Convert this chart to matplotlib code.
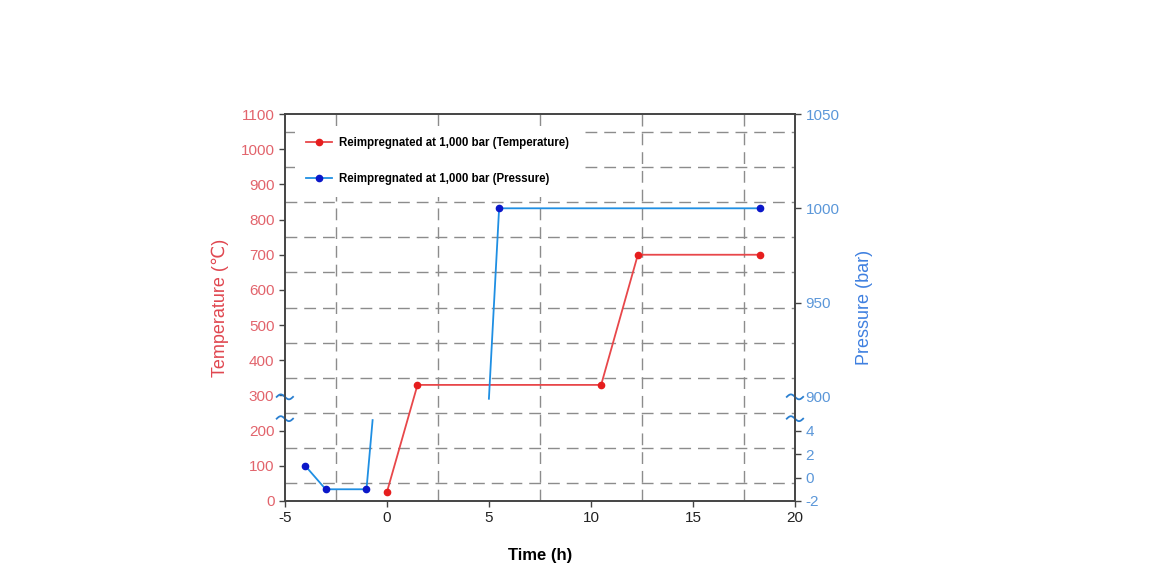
import numpy as np
import matplotlib
matplotlib.use('Agg')
import matplotlib.pyplot as plt
from matplotlib.ticker import MultipleLocator, FixedLocator

plt.rcParams['font.family'] = ['Liberation Sans', 'DejaVu Sans']
plt.rcParams['axes.unicode_minus'] = False

# temperature run
temp_time = [0, 1.5, 10.5, 12.3, 18.3]
temp_val = [25, 330, 330, 700, 700]

# pressure run, two pieces either side of the axis break
pres_time_low = [-4, -3, -1, -0.7]
pres_val_low = [1, -1, -1, 4.9]
pres_time_high = [5, 5.5, 18.3]
pres_val_high = [899, 1000, 1000]

pres_ticks = [-2, 0, 2, 4, 900, 950, 1000, 1050]

label_t = 'Reimpregnated at 1,000 bar (Temperature)'
label_p = 'Reimpregnated at 1,000 bar (Pressure)'

RED_LINE = '#e8474a'
RED_MK = '#e61e1e'
BLUE_LINE = '#1f8fe3'
BLUE_MK = '#0b17c9'
RED_TXT = '#e2646c'
BLUE_TXT = '#5b97d9'

# broken pressure scale -> temperature-equivalent height
p_knots = np.array([-100, -2, 5, 895, 1050, 3000])
t_knots = np.array([-3266.7, 0, 233.3, 269.2, 1100, 11552])

def fwd(p):
    return np.interp(p, p_knots, t_knots)

def inv(t):
    return np.interp(t, t_knots, p_knots)

fig = plt.figure(figsize=(11.58, 5.75), dpi=100)
ax = fig.add_axes([0.246, 0.1287, 0.4405, 0.673])
ax2 = ax.twinx()
ax2.set_yscale('function', functions=(fwd, inv))

ax.set_xlim(-5, 20)
ax.set_ylim(0, 1100)
ax2.set_ylim(-2, 1050)

ax.xaxis.set_major_locator(MultipleLocator(5))
ax.xaxis.set_minor_locator(FixedLocator([-2.5, 2.5, 7.5, 12.5, 17.5]))
ax.yaxis.set_major_locator(MultipleLocator(100))
ax.yaxis.set_minor_locator(FixedLocator(np.arange(50, 1100, 100)))
ax.grid(which='minor', color='#8c8c8c', linestyle=(0, (8.5, 5)), linewidth=1.0)
ax.set_axisbelow(True)
ax.tick_params(which='minor', length=0)
ax.tick_params(which='major', direction='out', length=4, width=1, labelsize=11)
ax.tick_params(axis='y', colors='#444444', labelcolor=RED_TXT)
ax.tick_params(axis='x', colors='#444444', labelcolor='#222222')

ax2.yaxis.set_major_locator(FixedLocator(pres_ticks))
ax2.yaxis.set_minor_locator(FixedLocator([]))
ax2.set_yticklabels([str(v) for v in pres_ticks])
ax2.tick_params(axis='y', direction='out', length=4, width=1, labelsize=11,
                colors='#444444', labelcolor=BLUE_TXT)
ax2.yaxis.get_major_ticks()[4].tick2line.set_visible(False)

for a in (ax, ax2):
    for s in a.spines.values():
        s.set_color('#444444')
        s.set_linewidth(1.2)

l1, = ax.plot(temp_time, temp_val, color=RED_LINE, lw=1.3, marker='o', ms=4.5,
              mfc=RED_MK, mec=RED_MK, label=label_t)
l2, = ax2.plot(pres_time_low, pres_val_low, color=BLUE_LINE, lw=1.3, marker='o', ms=4.5,
               mfc=BLUE_MK, mec=BLUE_MK, markevery=[0, 1, 2], label=label_p)
ax2.plot(pres_time_high, pres_val_high, color=BLUE_LINE, lw=1.3, marker='o', ms=4.5,
         mfc=BLUE_MK, mec=BLUE_MK, markevery=[1, 2])

ax.set_xlabel('Time (h)', fontsize=12, fontweight='bold', labelpad=16)
ax.set_ylabel('Temperature (\u2103)', fontsize=13, color='#e04750', labelpad=8)
ax2.set_ylabel('Pressure (bar)', fontsize=13, color='#3f80e0', labelpad=12)

# axis break marks
sx = np.linspace(-0.016, 0.016, 30)
for yb in (296, 234):
    for x0 in (0.0, 1.0):
        ax.plot(x0 + sx, yb - 7 * np.sin(sx / 0.016 * np.pi),
                color='#2a7fd0', lw=1.3, transform=ax.get_yaxis_transform(),
                clip_on=False, zorder=5)

leg = ax2.legend(handles=[l1, l2], loc='upper left', bbox_to_anchor=(0.008, 0.985),
                 frameon=True, facecolor='white', edgecolor='none', framealpha=1,
                 fancybox=False, borderpad=1.0, prop={'size': 8.3, 'weight': 'bold'},
                 handlelength=2.26, labelspacing=2.1, handletextpad=0.6)

fig.savefig('out.png', dpi=100)
